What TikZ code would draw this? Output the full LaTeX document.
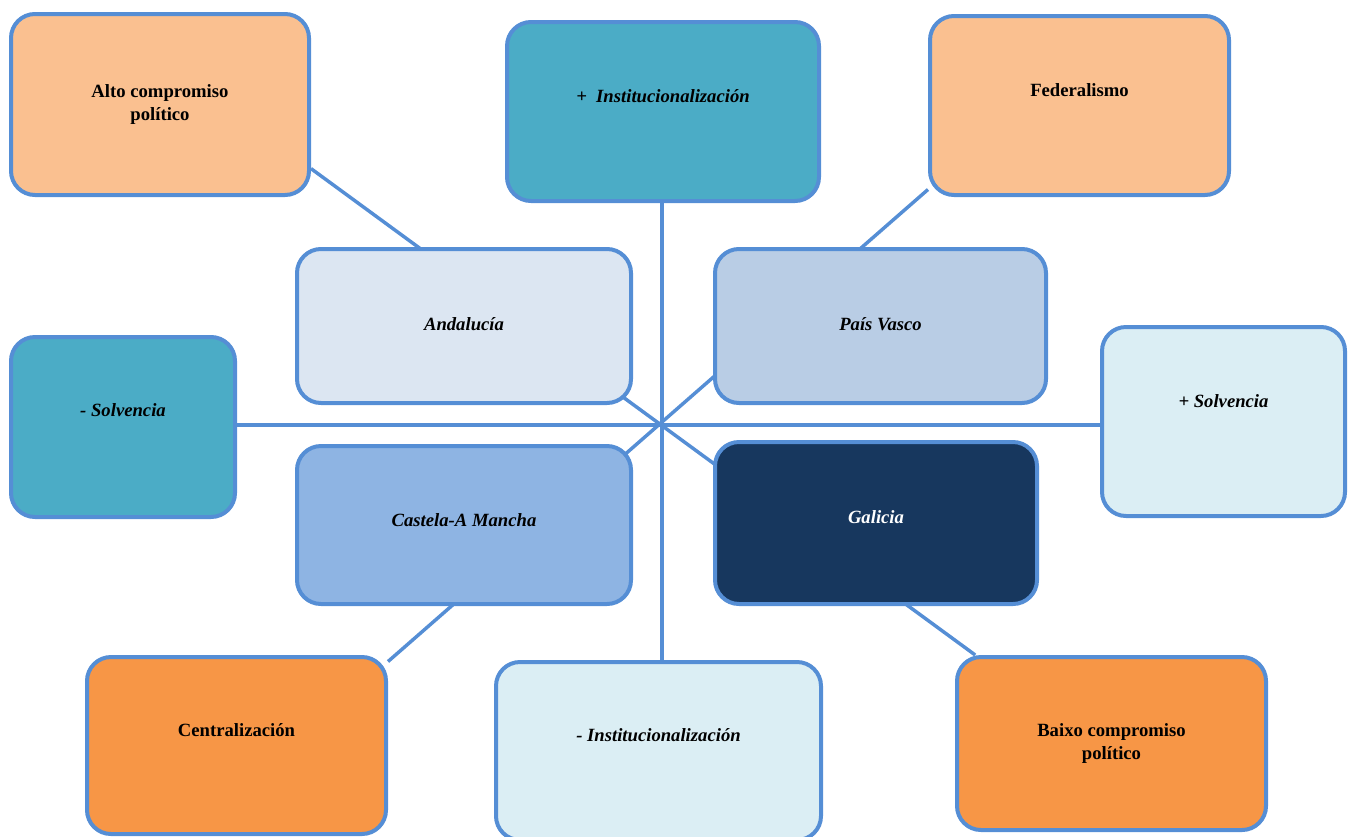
\documentclass[tikz,border=0pt]{standalone}
\usepackage{fontspec}
\setmainfont{Liberation Serif}
\usetikzlibrary{backgrounds}

\definecolor{borde}{HTML}{558ED5}
\definecolor{melocoton}{HTML}{FAC090}
\definecolor{turquesa}{HTML}{4BACC6}
\definecolor{celeste}{HTML}{DBEEF4}
\definecolor{naranja}{HTML}{F79646}
\definecolor{azulA}{HTML}{DCE6F2}
\definecolor{azulB}{HTML}{B9CDE5}
\definecolor{azulC}{HTML}{8EB4E3}
\definecolor{marino}{HTML}{17375E}

\tikzset{
  caja/.style={rectangle, rounded corners=18pt, draw=borde, line width=3pt,
    inner sep=0pt, align=center, font=\fontsize{14}{17}\selectfont\bfseries},
  lift/.style={text height=10pt, text depth=#1},
  enlace/.style={draw=borde, line width=2.6pt}
}

\begin{document}
\begin{tikzpicture}[x=0.75pt, y=-0.75pt]
            \useasboundingbox (0,0) rectangle (1355,836);
            \coordinate (c) at (662,425); % cruce

            \node[caja, fill=melocoton, minimum width=223.5pt, minimum height=135.75pt] (alto) at (160,104.5) {Alto compromiso\\político};
            \node[caja, fill=turquesa, minimum width=234pt, minimum height=134.25pt, lift=23.8pt] (pinst) at (663,111.5) {\itshape +\ \ Institucionalización};
            \node[caja, fill=melocoton, minimum width=224.25pt, minimum height=134.25pt, lift=23.8pt] (fed) at (1079.5,105.5) {Federalismo};

            \node[caja, fill=azulA, minimum width=250.5pt, minimum height=115.5pt, lift=3.5pt] (and) at (464,326) {\itshape Andalucía};
            \node[caja, fill=azulB, minimum width=248.25pt, minimum height=115.5pt, lift=3.5pt] (pv) at (880.5,326) {\itshape País Vasco};

            \node[caja, fill=turquesa, minimum width=168pt, minimum height=135pt, lift=26pt] (msolv) at (123,427) {\itshape - Solvencia};
            \node[caja, fill=celeste, minimum width=182.25pt, minimum height=141.75pt, lift=31.2pt] (psolv) at (1223.5,421.5) {\itshape + Solvencia};

            \node[caja, fill=azulC, minimum width=250.5pt, minimum height=118.5pt, lift=8pt] (cast) at (464,525) {\itshape Castela-A Mancha};
            \node[caja, fill=marino, text=white, minimum width=241.5pt, minimum height=121.5pt, lift=9.5pt] (gal) at (876,523) {\itshape Galicia};

            \node[caja, fill=naranja, minimum width=224.25pt, minimum height=132.75pt, lift=23.8pt] (cent) at (236.5,745.5) {Centralización};
            \node[caja, fill=celeste, minimum width=243.75pt, minimum height=133.5pt, lift=24.5pt] (minst) at (658.5,751) {\itshape - Institucionalización};
            \node[caja, fill=naranja, minimum width=231.75pt, minimum height=129.75pt] (baixo) at (1111.5,743.5) {Baixo compromiso\\político};

            \begin{pgfonlayer}{background}
            \draw[enlace] (msolv.east |- c) -- (psolv.west |- c); % eixo solvencia
            \draw[enlace] (pinst.south -| c) -- (minst.north -| c); % eixo institucionalización
            \draw[enlace] (alto.-23) -- (baixo.147);
            \draw[enlace] (fed.209) -- (cent.29);
            \end{pgfonlayer}
        \end{tikzpicture}
\end{document}
